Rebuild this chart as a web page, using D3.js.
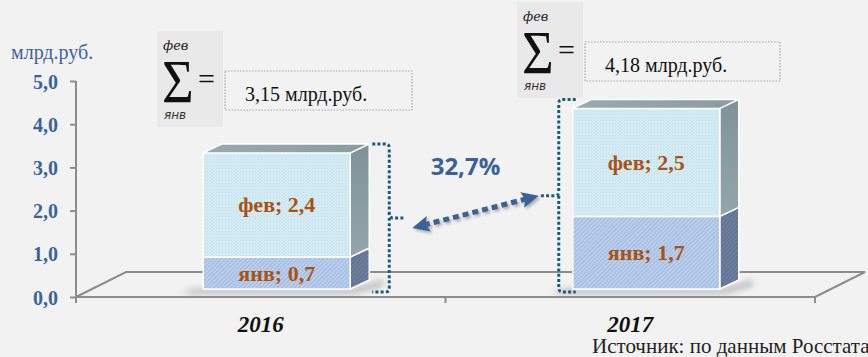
<!DOCTYPE html>
<html><head><meta charset="utf-8">
<script src="https://cdn.jsdelivr.net/npm/d3@7"></script>
<style>
html,body{margin:0;padding:0;background:#f2f2f2;}
svg{display:block;}
</style></head>
<body>
<svg id="chart" width="868" height="357"></svg>
<script>
// ---- data ----
const years = ["2016", "2017"];
const seriesNames = ["янв", "фев"];
const janValues = [0.74, 1.68];
const febValues = [2.41, 2.50];
const yTicks = [0, 1, 2, 3, 4, 5];
const unitLabel = "млрд.руб.";
const sourceText = "Источник: по данным Росстата";

const fmt1 = v => v.toFixed(1).replace(".", ",");
const fmt2 = v => v.toFixed(2).replace(".", ",");
const totals = years.map((_, i) => janValues[i] + febValues[i]);
const change = totals[1] / totals[0] - 1;

const svg = d3.select("#chart");
const W = 868, H = 357;
svg.append("rect").attr("width", W).attr("height", H).attr("fill", "#f2f2f2");

const SERIF = "'Liberation Serif','Times New Roman',serif";
const blue = "#3a639c";
const labelColor = "#a9530f";
const gridGray = "#8d8d8d";

// ---- defs ----
const defs = svg.append("defs");
const pF = defs.append("pattern").attr("id", "febPat").attr("width", 3).attr("height", 3).attr("patternUnits", "userSpaceOnUse");
pF.append("rect").attr("width", 3).attr("height", 3).attr("fill", "#d4ecf4");
pF.append("rect").attr("x", 0).attr("y", 0).attr("width", 1).attr("height", 1).attr("fill", "#c0dde8");
pF.append("rect").attr("x", 1.5).attr("y", 1.5).attr("width", 1).attr("height", 1).attr("fill", "#c6e2ec");

const pJ = defs.append("pattern").attr("id", "janPat").attr("width", 3).attr("height", 3).attr("patternUnits", "userSpaceOnUse").attr("patternTransform", "rotate(45)");
pJ.append("rect").attr("width", 3).attr("height", 3).attr("fill", "#bed1ee");
pJ.append("rect").attr("width", 1.2).attr("height", 3).attr("fill", "#a0b8de");

const pJS = defs.append("pattern").attr("id", "janSidePat").attr("width", 3).attr("height", 3).attr("patternUnits", "userSpaceOnUse").attr("patternTransform", "rotate(45)");
pJS.append("rect").attr("width", 3).attr("height", 3).attr("fill", "#6f80a0");
pJS.append("rect").attr("width", 1.2).attr("height", 3).attr("fill", "#5d6d8c");

const gSide = defs.append("linearGradient").attr("id", "sideGrad").attr("x1", 0).attr("y1", 0).attr("x2", 0).attr("y2", 1);
gSide.append("stop").attr("offset", 0).attr("stop-color", "#7f9297");
gSide.append("stop").attr("offset", 1).attr("stop-color", "#94a6ab");
const gTop = defs.append("linearGradient").attr("id", "topGrad").attr("x1", 0).attr("y1", 0).attr("x2", 1).attr("y2", 0);
gTop.append("stop").attr("offset", 0).attr("stop-color", "#9aabaf");
gTop.append("stop").attr("offset", 1).attr("stop-color", "#8a9ca1");

const blur = defs.append("filter").attr("id", "blur").attr("x", "-50%").attr("y", "-50%").attr("width", "200%").attr("height", "200%");
blur.append("feGaussianBlur").attr("stdDeviation", 3);
const blurS = defs.append("filter").attr("id", "blurS").attr("x", "-50%").attr("y", "-50%").attr("width", "200%").attr("height", "200%");
blurS.append("feGaussianBlur").attr("stdDeviation", 1.5);

// ---- scales ----
const x = d3.scaleBand().domain(years).range([76, 815]);
const y = d3.scaleLinear().domain([0, 5]).range([297, 81]);
const depth = {dx: 50, dy: -25};       // floor depth
const barOff = {dx: 16, dy: -8};       // bar placement inside floor depth
const barD = {dx: 19, dy: -9};         // bar depth
const barW = 147;
const yb = v => y(v) + barOff.dy;

// ---- floor ----
const [x0, x1] = x.range();
const y0 = y(0);
const floor = svg.append("g").attr("fill", "none").attr("stroke", gridGray).attr("stroke-width", 2);
floor.append("path").attr("d", d3.line()([[x0, y0], [x0 + depth.dx, y0 + depth.dy], [x1 + depth.dx, y0 + depth.dy], [x1, y0]]));
floor.append("line").attr("x1", x0).attr("x2", x1).attr("y1", y0).attr("y2", y0);
[x0, x(years[1]), x1].forEach(t => {
  floor.append("line").attr("x1", t).attr("x2", t).attr("y1", y0).attr("y2", y0 + 6);
});

// ---- y axis ----
const yAxis = svg.append("g").attr("transform", `translate(${x0},0)`)
  .call(d3.axisLeft(y).tickValues(yTicks).tickFormat(fmt1).tickSize(6).tickSizeOuter(0).tickPadding(12));
yAxis.select(".domain").attr("stroke", gridGray).attr("stroke-width", 2).attr("d", `M0,${y(5)}V${y0 + 4}`);
yAxis.selectAll(".tick line").attr("stroke", gridGray).attr("stroke-width", 2);
yAxis.selectAll(".tick text").attr("fill", blue).attr("font-family", SERIF)
  .attr("font-size", 20).attr("font-weight", "bold").attr("dy", "0.35em");

svg.append("text").attr("x", 11).attr("y", 59).attr("fill", blue)
  .attr("font-family", SERIF).attr("font-size", 20).text(unitLabel);

// ---- bars ----
const barsG = svg.append("g");
years.forEach((yr, i) => {
  const bx = x(yr) + x.bandwidth() / 2 + barOff.dx - barW / 2;
  const base = yb(0);
  const g = barsG.append("g");
  // shadow
  g.append("path").attr("d", d3.line()([
    [bx - 22, base + 5], [bx + barW + 4, base + 5], [bx + barW + barD.dx + 14, base + barD.dy + 6],
    [bx + barW + barD.dx + 14, base + barD.dy], [bx + barW, base], [bx - 10, base]
  ])).attr("fill", "#8a8a8a").attr("opacity", 0.55).attr("filter", "url(#blur)");

  const segs = [
    {name: seriesNames[0], v0: 0, v1: janValues[i], val: janValues[i], front: "url(#janPat)", side: "url(#janSidePat)"},
    {name: seriesNames[1], v0: janValues[i], v1: totals[i], val: febValues[i], front: "url(#febPat)", side: "url(#sideGrad)"}
  ];
  segs.forEach(s => {
    const yt = yb(s.v1), ybt = yb(s.v0);
    g.append("path").attr("d", d3.line()([
      [bx + barW, yt], [bx + barW + barD.dx, yt + barD.dy], [bx + barW + barD.dx, ybt + barD.dy], [bx + barW, ybt]
    ]) + "Z").attr("fill", s.side).attr("stroke", "#fff").attr("stroke-width", 1.5).attr("stroke-linejoin", "round");
    g.append("rect").attr("x", bx).attr("y", yt).attr("width", barW).attr("height", ybt - yt)
      .attr("fill", s.front).attr("stroke", "#fff").attr("stroke-width", 1.5);
    g.append("text").attr("x", bx + barW / 2).attr("y", (yt + ybt) / 2 + 7.5)
      .attr("text-anchor", "middle").attr("fill", labelColor)
      .attr("font-family", SERIF).attr("font-weight", "bold").attr("font-size", 22)
      .text(`${s.name}; ${fmt1(s.val)}`);
  });
  const tt = yb(totals[i]);
  g.append("path").attr("d", d3.line()([
    [bx, tt], [bx + barD.dx, tt + barD.dy], [bx + barW + barD.dx, tt + barD.dy], [bx + barW, tt]
  ]) + "Z").attr("fill", "url(#topGrad)").attr("stroke", "#fff").attr("stroke-width", 1.5).attr("stroke-linejoin", "round");

  // category label
  svg.append("text").attr("x", x(yr) + x.bandwidth() / 2).attr("y", 332)
    .attr("text-anchor", "middle").attr("fill", "#111")
    .attr("font-family", SERIF).attr("font-weight", "bold").attr("font-style", "italic")
    .attr("font-size", 23).text(yr);
});

// ---- braces ----
const braceColor = "#1b5c7b";
const braceG = svg.append("g").attr("fill", "none").attr("stroke", braceColor).attr("stroke-width", 3)
  .attr("stroke-dasharray", "3 2.2");
const bx0 = x(years[0]) + x.bandwidth() / 2 + barOff.dx - barW / 2;
const bx1 = x(years[1]) + x.bandwidth() / 2 + barOff.dx - barW / 2;
// right brace for 2016
const r0 = bx0 + barW + barD.dx + 20, t0 = yb(totals[0]) + barD.dy, b0 = yb(0) + 3, m0 = (t0 + b0) / 2;
braceG.append("path").attr("d",
  `M${r0 - 17},${t0} L${r0 - 4},${t0} Q${r0},${t0} ${r0},${t0 + 4} L${r0},${m0 - 4} Q${r0},${m0} ${r0 + 4},${m0} L${r0 + 16},${m0}
   M${r0},${m0} Q${r0},${m0} ${r0},${m0 + 4} L${r0},${b0 - 4} Q${r0},${b0} ${r0 - 4},${b0} L${r0 - 17},${b0}`);
// left brace for 2017
const l1 = bx1 - 14, t1 = yb(totals[1]) + barD.dy, b1 = yb(0) + 3, m1 = (t1 + b1) / 2;
braceG.append("path").attr("d",
  `M${l1 + 17},${t1} L${l1 + 4},${t1} Q${l1},${t1} ${l1},${t1 + 4} L${l1},${m1 - 4} Q${l1},${m1} ${l1 - 4},${m1} L${l1 - 18},${m1}
   M${l1},${m1} L${l1},${b1 - 4} Q${l1},${b1} ${l1 + 4},${b1} L${l1 + 17},${b1}`);

// ---- double arrow ----
const A = [r0 + 23, m0 + 10], B = [l1 - 20, m1];
const ang = Math.atan2(B[1] - A[1], B[0] - A[0]);
const hl = 17, hw = 8;
const head = (P, dir) => {
  const c = Math.cos(ang) * dir, s = Math.sin(ang) * dir;
  const bxp = P[0] - c * hl, byp = P[1] - s * hl;
  return [[P[0], P[1]], [bxp - s * hw, byp + c * hw], [bxp + c * 3, byp + s * 3], [bxp + s * hw, byp - c * hw]];
};
const arrowG = svg.append("g");
const drawArrow = (g, off, col, filt) => {
  const sh = p => [p[0] + off, p[1] + off];
  g.append("line").attr("x1", A[0] + Math.cos(ang) * 12 + off).attr("y1", A[1] + Math.sin(ang) * 12 + off)
    .attr("x2", B[0] - Math.cos(ang) * 12 + off).attr("y2", B[1] - Math.sin(ang) * 12 + off)
    .attr("stroke", col).attr("stroke-width", 5).attr("stroke-dasharray", "6 4").attr("filter", filt);
  g.append("path").attr("d", d3.line()(head(A, -1).map(sh)) + "Z").attr("fill", col).attr("filter", filt);
  g.append("path").attr("d", d3.line()(head(B, 1).map(sh)) + "Z").attr("fill", col).attr("filter", filt);
};
drawArrow(arrowG.append("g").attr("opacity", 0.45), 2, "#555", "url(#blurS)");
drawArrow(arrowG, 0, "#3a6298", null);

svg.append("text").attr("x", (A[0] + B[0]) / 2 - 10).attr("y", 175).attr("text-anchor", "middle")
  .attr("fill", "#3a6298").attr("font-family", "'Open Sans',sans-serif").attr("font-weight", "bold")
  .attr("font-size", 24).text(fmt1(change * 100) + "%");

// ---- sum boxes ----
const sumPos = [{x: 157, y: 31, bx: 225, by: 71, bw: 187}, {x: 517, y: 2, bx: 585, by: 42, bw: 195}];
sumPos.forEach((p, i) => {
  const g = svg.append("g").attr("transform", `translate(${p.x},${p.y})`);
  g.append("rect").attr("width", 66).attr("height", 96).attr("fill", "#e9e9e9");
  g.append("text").attr("x", 6).attr("y", 19).attr("font-family", "'DejaVu Serif',serif").attr("font-style", "italic")
    .attr("font-size", 13).attr("fill", "#222").text(seriesNames[1]);
  g.append("text").attr("transform", "translate(5,71) scale(0.88,1)").attr("font-family", SERIF)
    .attr("font-size", 62).attr("fill", "#111").text("\u03A3");
  g.append("text").attr("x", 41).attr("y", 58).attr("font-family", SERIF)
    .attr("font-size", 30).attr("fill", "#111").text("=");
  g.append("text").attr("x", 7).attr("y", 88).attr("font-family", "'DejaVu Sans',sans-serif").attr("font-style", "italic")
    .attr("font-size", 12).attr("fill", "#333").text(seriesNames[0]);
  svg.append("rect").attr("x", p.bx).attr("y", p.by).attr("width", p.bw).attr("height", 39)
    .attr("fill", "#f2f2f2").attr("stroke", "#a6a6a6").attr("stroke-width", 1.2).attr("stroke-dasharray", "1.5 1.5");
  svg.append("text").attr("x", p.bx + 20).attr("y", p.by + 30).attr("font-family", SERIF)
    .attr("font-size", 20).attr("fill", "#111").text(`${fmt2(totals[i])} ${unitLabel}`);
});

// ---- source ----
svg.append("text").attr("x", 592).attr("y", 353).attr("font-family", SERIF)
  .attr("font-size", 21).attr("fill", "#222").text(sourceText);
</script>
</body></html>
